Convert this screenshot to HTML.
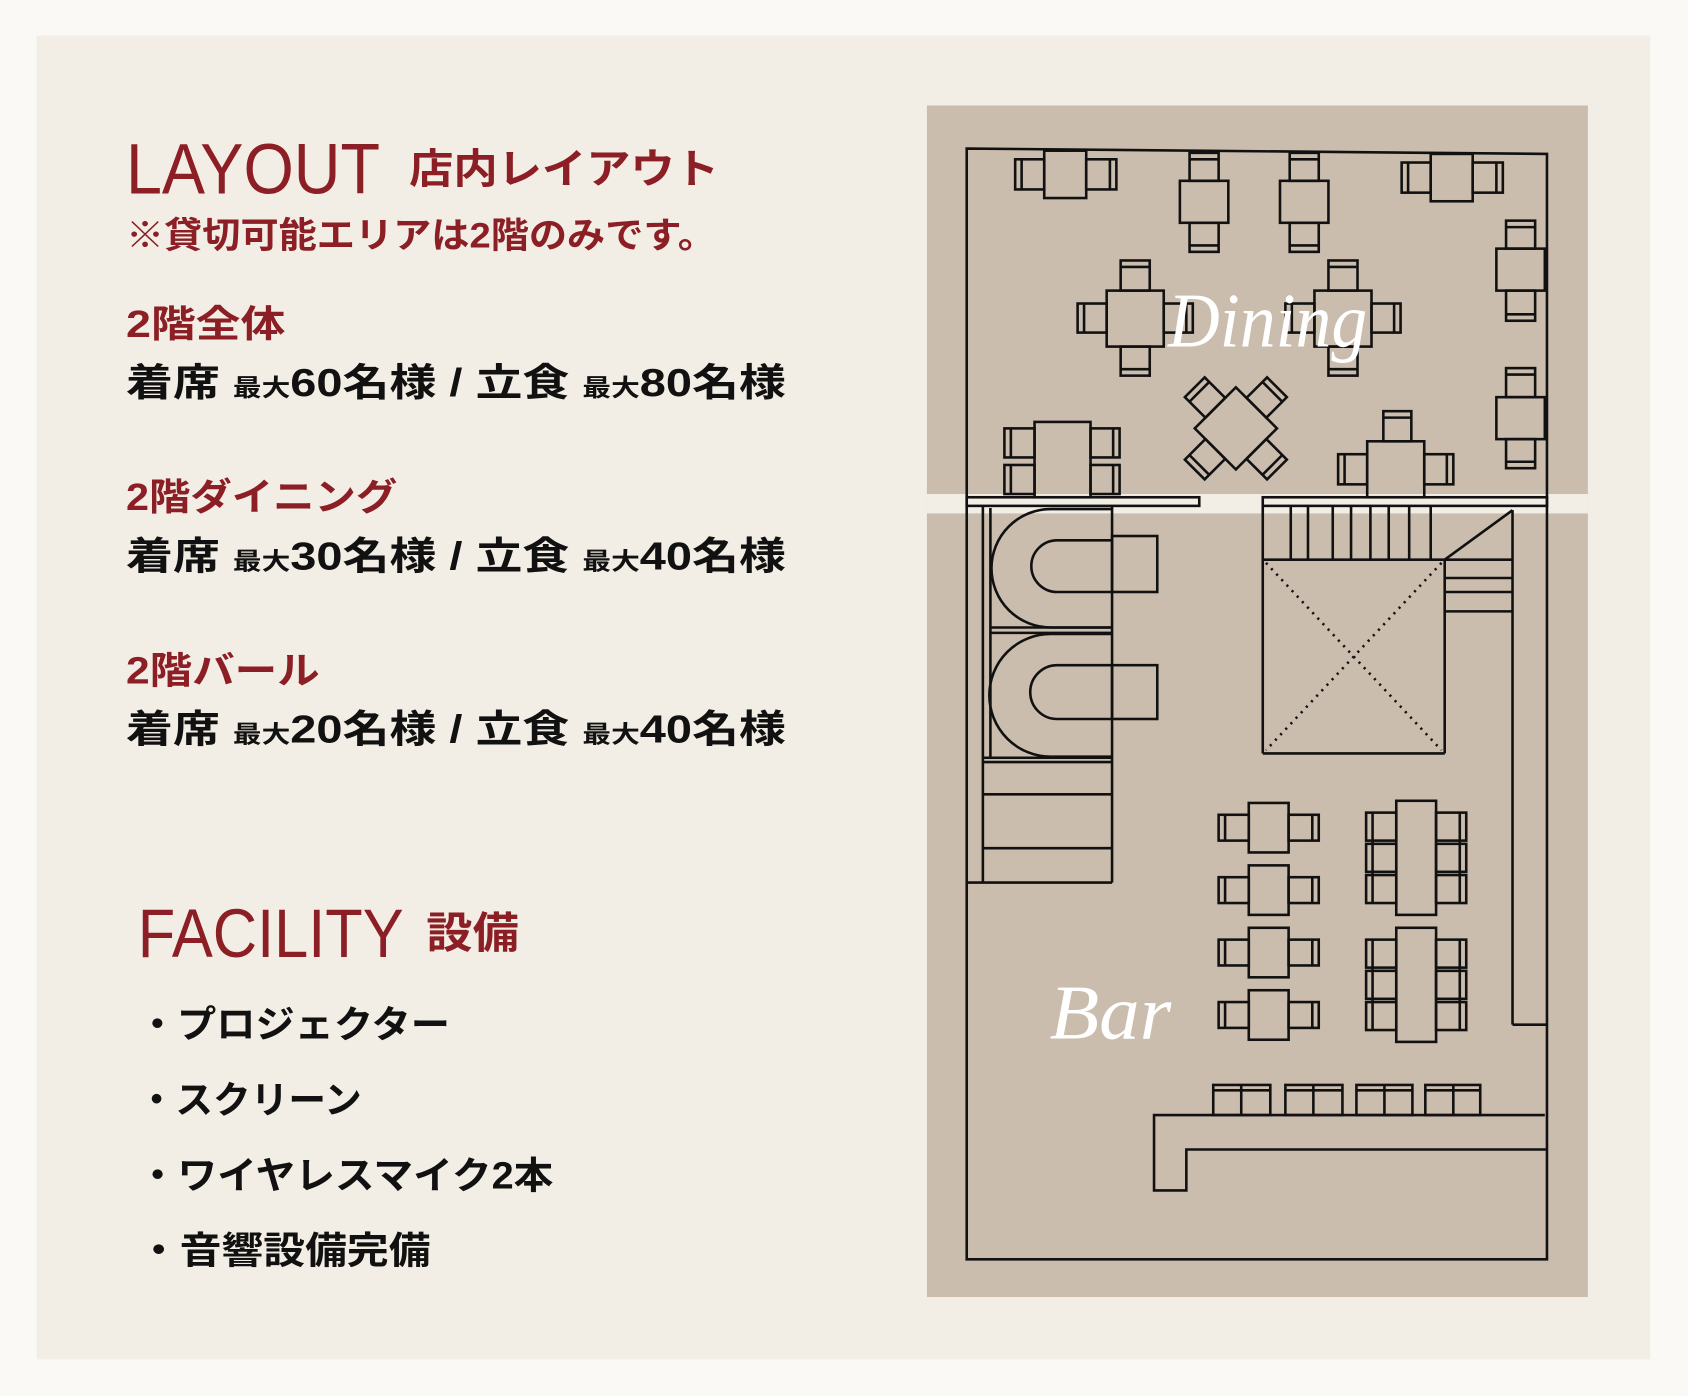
<!DOCTYPE html>
<html><head><meta charset="utf-8"><style>
html,body{margin:0;padding:0;background:#fbf9f5;}
svg{display:block}
.jp{font-family:"Liberation Sans","Noto Sans CJK JP",sans-serif;font-weight:bold}
.r{fill:#8c1f25}
.k{fill:#111}
.p rect,.p path,.p line,.p polygon{fill:none;stroke:#111;stroke-width:2.4}
</style></head><body>
<svg width="1688" height="1396" viewBox="0 0 1568 1297" preserveAspectRatio="none" xmlns="http://www.w3.org/2000/svg">
<rect x="0" y="0" width="1568" height="1297" fill="#fbf9f5"/>
<rect x="34" y="33" width="1499" height="1230" fill="#f3eee5"/>
<rect x="861" y="98" width="614" height="1107" fill="#cbbdad"/>
<rect x="861" y="459" width="614" height="18" fill="#f3eee5"/>

<!-- text -->
<text x="117" y="180" class="r" font-family="Liberation Sans,sans-serif" font-size="66" textLength="236" lengthAdjust="spacingAndGlyphs">LAYOUT</text>
<text x="380" y="170" class="jp r" font-size="38" textLength="288" lengthAdjust="spacingAndGlyphs">店内レイアウト</text>
<text x="117" y="230" class="jp r" font-size="33" textLength="548" lengthAdjust="spacingAndGlyphs">※貸切可能エリアは2階のみです。</text>

<text x="117" y="313" class="jp r" font-size="35" textLength="148" lengthAdjust="spacingAndGlyphs">2階全体</text>
<text x="117" y="368" class="jp k" font-size="36" textLength="613" lengthAdjust="spacingAndGlyphs">着席 <tspan font-size="22">最大</tspan>60名様 / 立食 <tspan font-size="22">最大</tspan>80名様</text>

<text x="117" y="474" class="jp r" font-size="35" textLength="252" lengthAdjust="spacingAndGlyphs">2階ダイニング</text>
<text x="117" y="529" class="jp k" font-size="36" textLength="613" lengthAdjust="spacingAndGlyphs">着席 <tspan font-size="22">最大</tspan>30名様 / 立食 <tspan font-size="22">最大</tspan>40名様</text>

<text x="117" y="635" class="jp r" font-size="35" textLength="180" lengthAdjust="spacingAndGlyphs">2階バール</text>
<text x="117" y="690" class="jp k" font-size="36" textLength="613" lengthAdjust="spacingAndGlyphs">着席 <tspan font-size="22">最大</tspan>20名様 / 立食 <tspan font-size="22">最大</tspan>40名様</text>

<text x="128" y="889" class="r" font-family="Liberation Sans,sans-serif" font-size="64" textLength="247" lengthAdjust="spacingAndGlyphs">FACILITY</text>
<text x="396" y="881" class="jp r" font-size="40" textLength="86" lengthAdjust="spacingAndGlyphs">設備</text>

<text x="128" y="964" class="jp k" font-size="35" textLength="290" lengthAdjust="spacingAndGlyphs">・プロジェクター</text>
<text x="128" y="1034" class="jp k" font-size="35" textLength="208" lengthAdjust="spacingAndGlyphs">・スクリーン</text>
<text x="128" y="1104" class="jp k" font-size="35" textLength="386" lengthAdjust="spacingAndGlyphs">・ワイヤレスマイク2本</text>
<text x="128" y="1174" class="jp k" font-size="35" textLength="272" lengthAdjust="spacingAndGlyphs">・音響設備完備</text>

<g class="p">
<!-- room -->
<path d="M898,138 L1437,143 L1437,1170 L898,1170 Z"/>
<!-- top row -->
<rect x="970" y="140" width="39" height="44"/><rect x="943" y="148" width="27" height="28"/><line x1="949" y1="148" x2="949" y2="176"/><rect x="1009" y="148" width="28" height="28"/><line x1="1031" y1="148" x2="1031" y2="176"/>
<rect x="1096" y="168" width="45" height="39"/><rect x="1105" y="142" width="27" height="26"/><line x1="1105" y1="148" x2="1132" y2="148"/><rect x="1105" y="207" width="27" height="27"/><line x1="1105" y1="228" x2="1132" y2="228"/>
<rect x="1189" y="168" width="45" height="39"/><rect x="1198" y="142" width="27" height="26"/><line x1="1198" y1="148" x2="1225" y2="148"/><rect x="1198" y="207" width="27" height="27"/><line x1="1198" y1="228" x2="1225" y2="228"/>
<rect x="1329" y="143" width="39" height="44"/><rect x="1302" y="151" width="27" height="28"/><line x1="1308" y1="151" x2="1308" y2="179"/><rect x="1368" y="151" width="28" height="28"/><line x1="1390" y1="151" x2="1390" y2="179"/>
<!-- right col -->
<rect x="1390" y="231" width="45" height="39"/><rect x="1399" y="205" width="27" height="26"/><line x1="1399" y1="211" x2="1426" y2="211"/><rect x="1399" y="270" width="27" height="28"/><line x1="1399" y1="292" x2="1426" y2="292"/>
<rect x="1390" y="369" width="45" height="39"/><rect x="1399" y="342" width="27" height="27"/><line x1="1399" y1="348" x2="1426" y2="348"/><rect x="1399" y="408" width="27" height="27"/><line x1="1399" y1="429" x2="1426" y2="429"/>
<!-- middle tables -->
<rect x="1028" y="270" width="53" height="52"/><rect x="1041" y="242" width="27" height="28"/><line x1="1041" y1="248" x2="1068" y2="248"/><rect x="1041" y="322" width="27" height="27"/><line x1="1041" y1="343" x2="1068" y2="343"/><rect x="1001" y="282" width="27" height="27"/><line x1="1007" y1="282" x2="1007" y2="309"/><rect x="1081" y="282" width="27" height="27"/><line x1="1102" y1="282" x2="1102" y2="309"/>
<rect x="1221" y="270" width="53" height="52"/><rect x="1234" y="242" width="27" height="28"/><line x1="1234" y1="248" x2="1261" y2="248"/><rect x="1234" y="322" width="27" height="27"/><line x1="1234" y1="343" x2="1261" y2="343"/><rect x="1194" y="282" width="27" height="27"/><line x1="1200" y1="282" x2="1200" y2="309"/><rect x="1274" y="282" width="27" height="27"/><line x1="1295" y1="282" x2="1295" y2="309"/>
<!-- diamond -->
<g transform="rotate(45 1148 398)">
<rect x="1121" y="371" width="54" height="54"/>
<rect x="1135" y="344" width="26" height="27"/><line x1="1135" y1="350" x2="1161" y2="350"/>
<rect x="1135" y="425" width="26" height="27"/><line x1="1135" y1="446" x2="1161" y2="446"/>
<rect x="1094" y="385" width="27" height="26"/><line x1="1100" y1="385" x2="1100" y2="411"/>
<rect x="1175" y="385" width="27" height="26"/><line x1="1196" y1="385" x2="1196" y2="411"/>
</g>
<!-- bottom left -->
<rect x="961" y="392" width="52" height="70"/><rect x="933" y="398" width="28" height="27"/><line x1="939" y1="398" x2="939" y2="425"/><rect x="933" y="432" width="28" height="27"/><line x1="939" y1="432" x2="939" y2="459"/><rect x="1013" y="398" width="27" height="27"/><line x1="1034" y1="398" x2="1034" y2="425"/><rect x="1013" y="432" width="27" height="27"/><line x1="1034" y1="432" x2="1034" y2="459"/>
<!-- bottom right -->
<rect x="1270" y="410" width="53" height="52"/><rect x="1285" y="382" width="26" height="28"/><line x1="1285" y1="388" x2="1311" y2="388"/><rect x="1243" y="422" width="27" height="28"/><line x1="1249" y1="422" x2="1249" y2="450"/><rect x="1323" y="422" width="27" height="28"/><line x1="1344" y1="422" x2="1344" y2="450"/>
<!-- wall -->
<rect x="898" y="462" width="216" height="8" fill="#f3eee5"/><rect x="1173" y="462" width="264" height="8" fill="#f3eee5"/>
<!-- booths -->
<line x1="913" y1="470" x2="913" y2="820"/><line x1="920" y1="472" x2="920" y2="704"/>
<line x1="1033" y1="470" x2="1033" y2="820"/><line x1="898" y1="820" x2="1033" y2="820"/>
<line x1="920" y1="583" x2="1033" y2="583"/><line x1="920" y1="588" x2="1033" y2="588"/>
<line x1="913" y1="704" x2="1033" y2="704"/><line x1="913" y1="708" x2="1033" y2="708"/>
<line x1="913" y1="738" x2="1033" y2="738"/><line x1="913" y1="788" x2="1033" y2="788"/>
<path d="M1033,473 H976 A55,55 0 0 0 976,583 H1033"/>
<path d="M1033,502 H982 A24,24 0 0 0 982,550 H1033"/>
<rect x="1033" y="498" width="42" height="52"/>
<path d="M1033,589 H976 A57,57 0 0 0 976,703 H1033"/>
<path d="M1033,618 H982 A25,25 0 0 0 982,668 H1033"/>
<rect x="1033" y="618" width="42" height="50"/>
<!-- stairs -->
<line x1="1173" y1="470" x2="1173" y2="700"/><line x1="1173" y1="700" x2="1342" y2="700"/><line x1="1342" y1="520" x2="1342" y2="700"/>
<line x1="1173" y1="520" x2="1405" y2="520"/>
<line x1="1342" y1="537" x2="1405" y2="537"/><line x1="1342" y1="550" x2="1405" y2="550"/><line x1="1342" y1="568" x2="1405" y2="568"/>
<line x1="1342" y1="520" x2="1405" y2="474"/>
<line x1="1405" y1="474" x2="1405" y2="952"/><line x1="1405" y1="952" x2="1437" y2="952"/>
<line x1="1199" y1="470" x2="1199" y2="520"/><line x1="1215" y1="470" x2="1215" y2="520"/><line x1="1238" y1="470" x2="1238" y2="520"/><line x1="1255" y1="470" x2="1255" y2="520"/><line x1="1273" y1="470" x2="1273" y2="520"/><line x1="1290" y1="470" x2="1290" y2="520"/><line x1="1309" y1="470" x2="1309" y2="520"/><line x1="1329" y1="470" x2="1329" y2="520"/>
<line x1="1176" y1="523" x2="1339" y2="697" stroke-dasharray="2 5"/><line x1="1339" y1="523" x2="1176" y2="697" stroke-dasharray="2 5"/>
<!-- bar 2-tops -->
<rect x="1160" y="746" width="37" height="46"/><rect x="1132" y="757" width="28" height="24"/><line x1="1138" y1="757" x2="1138" y2="781"/><rect x="1197" y="757" width="28" height="24"/><line x1="1219" y1="757" x2="1219" y2="781"/>
<rect x="1160" y="804" width="37" height="46"/><rect x="1132" y="815" width="28" height="24"/><line x1="1138" y1="815" x2="1138" y2="839"/><rect x="1197" y="815" width="28" height="24"/><line x1="1219" y1="815" x2="1219" y2="839"/>
<rect x="1160" y="862" width="37" height="46"/><rect x="1132" y="873" width="28" height="24"/><line x1="1138" y1="873" x2="1138" y2="897"/><rect x="1197" y="873" width="28" height="24"/><line x1="1219" y1="873" x2="1219" y2="897"/>
<rect x="1160" y="920" width="37" height="46"/><rect x="1132" y="931" width="28" height="24"/><line x1="1138" y1="931" x2="1138" y2="955"/><rect x="1197" y="931" width="28" height="24"/><line x1="1219" y1="931" x2="1219" y2="955"/>
<!-- long tables -->
<rect x="1297" y="744" width="37" height="106"/>
<rect x="1269" y="755" width="28" height="26"/><rect x="1269" y="784" width="28" height="26"/><rect x="1269" y="813" width="28" height="26"/>
<line x1="1275" y1="755" x2="1275" y2="839"/>
<rect x="1334" y="755" width="28" height="26"/><rect x="1334" y="784" width="28" height="26"/><rect x="1334" y="813" width="28" height="26"/>
<line x1="1356" y1="755" x2="1356" y2="839"/>
<rect x="1297" y="862" width="37" height="106"/>
<rect x="1269" y="873" width="28" height="26"/><rect x="1269" y="902" width="28" height="26"/><rect x="1269" y="931" width="28" height="26"/>
<line x1="1275" y1="873" x2="1275" y2="957"/>
<rect x="1334" y="873" width="28" height="26"/><rect x="1334" y="902" width="28" height="26"/><rect x="1334" y="931" width="28" height="26"/>
<line x1="1356" y1="873" x2="1356" y2="957"/>
<!-- stools -->
<rect x="1127" y="1008" width="53" height="28"/><line x1="1153" y1="1008" x2="1153" y2="1036"/><line x1="1127" y1="1013" x2="1180" y2="1013"/>
<rect x="1194" y="1008" width="53" height="28"/><line x1="1220" y1="1008" x2="1220" y2="1036"/><line x1="1194" y1="1013" x2="1247" y2="1013"/>
<rect x="1260" y="1008" width="52" height="28"/><line x1="1286" y1="1008" x2="1286" y2="1036"/><line x1="1260" y1="1013" x2="1312" y2="1013"/>
<rect x="1324" y="1008" width="51" height="28"/><line x1="1350" y1="1008" x2="1350" y2="1036"/><line x1="1324" y1="1013" x2="1375" y2="1013"/>
<!-- counter -->
<path d="M1435,1036 H1072 V1106 H1102 V1068 H1437"/>
</g>
<text x="1085" y="322" fill="#fff" font-family="Liberation Serif,serif" font-style="italic" font-size="72" textLength="185" lengthAdjust="spacingAndGlyphs">Dining</text>
<text x="975" y="965" fill="#fff" font-family="Liberation Serif,serif" font-style="italic" font-size="72" textLength="113" lengthAdjust="spacingAndGlyphs">Bar</text>
</svg>
</body></html>
